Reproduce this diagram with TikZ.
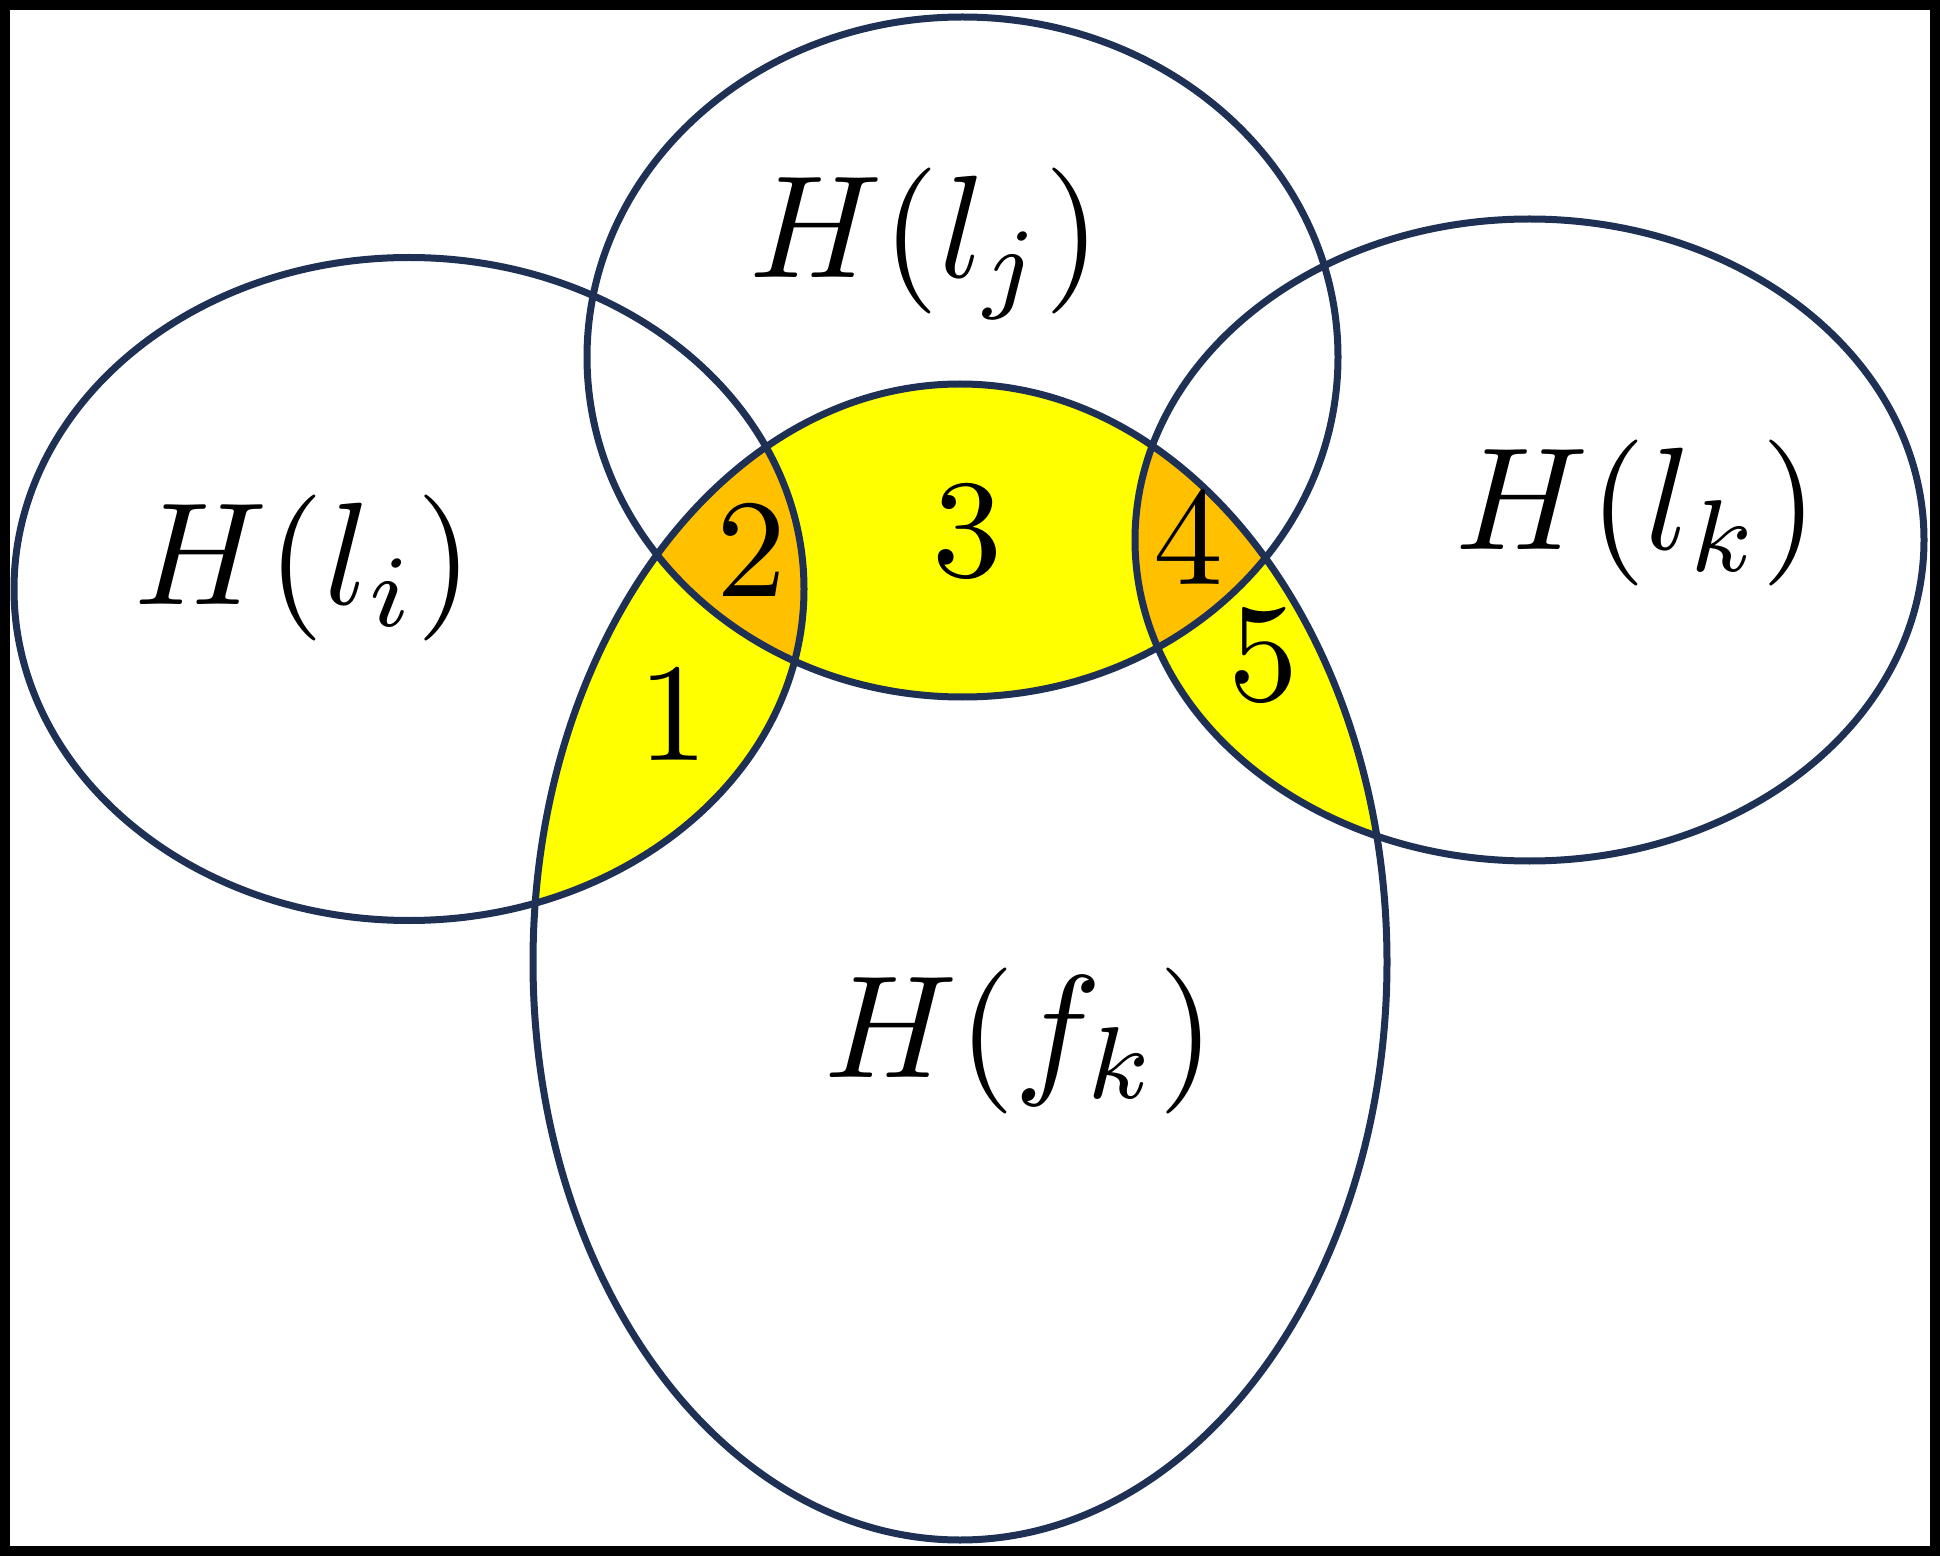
\documentclass[tikz,border=0pt]{standalone}
\definecolor{edge}{RGB}{30,48,84}
\definecolor{yfill}{RGB}{255,255,0}
\definecolor{ofill}{RGB}{255,192,0}
\tikzset{
  setline/.style={draw=edge, line width=3.5pt},
  setlabel/.style={anchor=base, inner sep=0pt, font=\fontsize{10}{12}\selectfont, scale=7.3},
  numlabel/.style={anchor=base, inner sep=0pt, font=\fontsize{10}{12}\selectfont, scale=7.0},
}
\newcommand{\ellHi}{(409,589) ellipse [x radius=197.5pt, y radius=165.75pt]}
\newcommand{\ellHj}{(962.5,357) ellipse [x radius=187.75pt, y radius=170pt]}
\newcommand{\ellHk}{(1529.5,540) ellipse [x radius=197.25pt, y radius=160.5pt]}
\newcommand{\ellHf}{(960,962) ellipse [x radius=213.5pt, y radius=289pt]}
\begin{document}
\begin{tikzpicture}[x=0.5pt, y=-0.5pt]
\useasboundingbox (0,0) rectangle (1940,1556);
\fill[white] (0,0) rectangle (1940,1556);
% yellow: H(f_k) intersected with the union of the others
\begin{scope}
  \clip \ellHf;
  \fill[yfill] \ellHi;
  \fill[yfill] \ellHj;
  \fill[yfill] \ellHk;
\end{scope}
% orange: triple intersections
\begin{scope}
  \clip \ellHf;
  \clip \ellHj;
  \fill[ofill] \ellHi;
  \fill[ofill] \ellHk;
\end{scope}
% outlines
\path[setline] \ellHi;
\path[setline] \ellHj;
\path[setline] \ellHk;
\path[setline] \ellHf;
% labels
\node[setlabel] (li) at (304,605) {$H(l_i)$};
\node[setlabel] (lj) at (925,278) {$H(l_j)$};
\node[setlabel] (lk) at (1637,550) {$H(l_k)$};
\node[setlabel] (lf) at (1020,1077) {$H(f_k)$};
\node[numlabel] (n1) at (673,760) {1};
\node[numlabel] (n2) at (751,597) {2};
\node[numlabel] (n3) at (967,577) {3};
\node[numlabel] (n4) at (1188,585) {4};
\node[numlabel] (n5) at (1263,700) {5};
% frame
\draw[black, line width=5pt] (5,5) rectangle (1935,1551);
\end{tikzpicture}
\end{document}
